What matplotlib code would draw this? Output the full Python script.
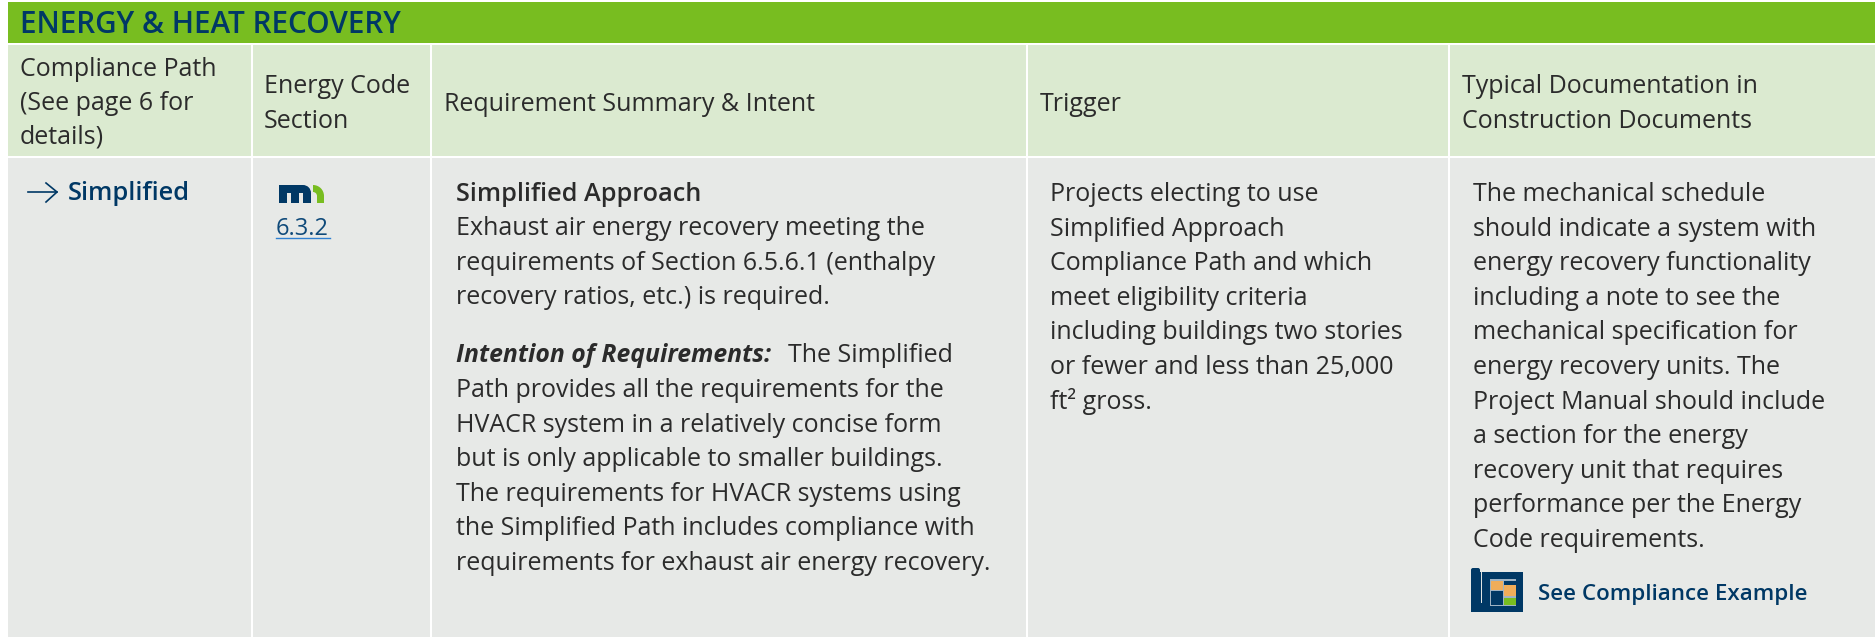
import matplotlib
matplotlib.use("Agg")
import matplotlib.pyplot as plt
from matplotlib.patches import Rectangle, FancyBboxPatch, Wedge

W, H = 1875, 637

TITLE = "ENERGY & HEAT RECOVERY"
HEADERS = [
    ["Compliance Path", "(See page 6 for", "details)"],
    ["Energy Code", "Section"],
    ["Requirement Summary & Intent"],
    ["Trigger"],
    ["Typical Documentation in", "Construction Documents"],
]
APPROACH = ["Exhaust air energy recovery meeting the",
            "requirements of Section 6.5.6.1 (enthalpy",
            "recovery ratios, etc.) is required."]
INTENT = ["Path provides all the requirements for the",
          "HVACR system in a relatively concise form",
          "but is only applicable to smaller buildings.",
          "The requirements for HVACR systems using",
          "the Simplified Path includes compliance with",
          "requirements for exhaust air energy recovery."]
TRIGGER = ["Projects electing to use",
           "Simplified Approach",
           "Compliance Path and which",
           "meet eligibility criteria",
           "including buildings two stories",
           "or fewer and less than 25,000",
           "ft² gross."]
DOCS = ["The mechanical schedule",
        "should indicate a system with",
        "energy recovery functionality",
        "including a note to see the",
        "mechanical specification for",
        "energy recovery units. The",
        "Project Manual should include",
        "a section for the energy",
        "recovery unit that requires",
        "performance per the Energy",
        "Code requirements."]

COL_L = [8, 253, 432, 1028, 1450]
COL_R = [251, 430, 1026, 1448, 1875]

GREEN = "#78bd20"
HEAD_BG = "#dbead0"
BODY_BG = "#e7e9e7"
NAVY = "#003865"
DARK = "#2b2b2b"
FS = 18.0
LH = 34.6

plt.rcParams["font.family"] = ["Open Sans", "DejaVu Sans"]

fig = plt.figure(figsize=(W / 100, H / 100), dpi=100)
ax = fig.add_axes([0, 0, 1, 1])
ax.set_xlim(0, W)
ax.set_ylim(H, 0)
ax.axis("off")


def txt(x, y, s, color=DARK, weight="normal", size=FS, style="normal"):
    return ax.text(x, y, s, color=color, fontweight=weight, fontsize=size,
                   fontstyle=style, va="baseline", ha="left")


def arch(x0, x1, y_top, y_bot, thick, color):
    # rounded right shoulder with a stem below, for the logo letters
    r = x1 - x0
    ax.add_patch(Wedge((x0, y_top + r), r, 270, 360, width=thick, fc=color, ec="none"))
    ax.add_patch(Rectangle((x1 - thick, y_top + r), thick, y_bot - y_top - r, fc=color, ec="none"))


ax.add_patch(Rectangle((8, 2), W - 8, 41, fc=GREEN, ec="none"))
txt(20, 33, TITLE, NAVY, "semibold", 21.4)

for i in range(5):
    ax.add_patch(Rectangle((COL_L[i], 45), COL_R[i] - COL_L[i], 111, fc=HEAD_BG, ec="none"))
    ax.add_patch(Rectangle((COL_L[i], 158), COL_R[i] - COL_L[i], H - 158, fc=BODY_BG, ec="none"))

header_y = [[76, 110, 144], [93, 128], [111], [111], [93, 128]]
header_x = [20, 264, 444, 1040, 1462]
for i, lines in enumerate(HEADERS):
    for j, line in enumerate(lines):
        txt(header_x[i], header_y[i][j], line)

# first column
ax.plot([28, 57], [192, 192], color=NAVY, lw=1.2)
ax.plot([46, 57, 46], [183, 192, 202], color=NAVY, lw=1.2)
txt(68, 200, "Simplified", NAVY, "semibold", 18.4)

# mn logo
ax.add_patch(Rectangle((279, 185), 8, 18, fc=NAVY, ec="none"))
ax.add_patch(Rectangle((279, 185), 12, 8, fc=NAVY, ec="none"))
arch(291, 299, 185, 203, 8, NAVY)
ax.add_patch(Rectangle((291, 193), 8, 10, fc=NAVY, ec="none"))
ax.add_patch(Rectangle((291, 185), 12, 8, fc=NAVY, ec="none"))
arch(303, 311, 185, 203, 8, NAVY)
arch(313, 324, 185, 203, 7, GREEN)
txt(276, 235, "6.3.2", "#0f4a7a", size=17)
ax.plot([276, 330], [238, 238], color="#2f7fd0", lw=1)

# requirement column
txt(456, 201, "Simplified Approach", DARK, "semibold", 18.2)
for j, line in enumerate(APPROACH):
    txt(456, 235 + j * LH, line)
txt(456, 362, "Intention of Requirements:", DARK, "bold", 17.8, "italic")
txt(788, 362, "The Simplified")
for j, line in enumerate(INTENT):
    txt(456, 397 + j * LH, line)

for j, line in enumerate(TRIGGER):
    txt(1050, 201 + j * LH, line)
for j, line in enumerate(DOCS):
    txt(1473, 201 + j * LH, line)

# blueprint icon
ax.add_patch(Rectangle((1471, 572), 52, 40, fc=NAVY, ec="none"))
ax.add_patch(FancyBboxPatch((1473, 570), 5, 40, boxstyle="round,pad=2", fc=NAVY, ec="none"))
ax.plot([1480.5, 1480.5], [572, 602], color=BODY_BG, lw=0.7)
ax.add_patch(Rectangle((1490, 579), 26, 27, fc="#9fb3c4", ec="none"))
ax.add_patch(Rectangle((1491, 581), 12, 9, fc="#f0ad5a", ec="none"))
ax.add_patch(Rectangle((1504, 581), 12, 4, fc=NAVY, ec="none"))
ax.add_patch(Rectangle((1504, 585), 12, 11, fc="#f0ad5a", ec="none"))
ax.add_patch(Rectangle((1491, 591), 12, 14, fc=NAVY, ec="none"))
ax.add_patch(Rectangle((1504, 598), 12, 7, fc=GREEN, ec="none"))
txt(1538, 600, "See Compliance Example", NAVY, "semibold", 16.1)

fig.savefig("out.png", dpi=100)
